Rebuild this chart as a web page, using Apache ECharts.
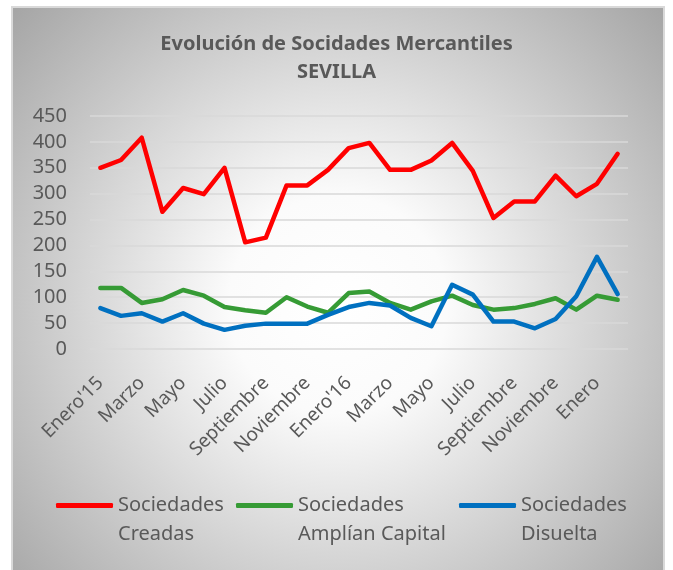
<!DOCTYPE html>
<html>
<head>
<meta charset="utf-8">
<script src="https://cdn.jsdelivr.net/npm/echarts@6/dist/echarts.min.js"></script>
<style>
html,body{margin:0;padding:0;background:#ffffff;}
#chart{width:673px;height:570px;}
</style>
</head>
<body>
<div id="chart"></div>
<script>
var categories = ["Enero'15","Febrero","Marzo","Abril","Mayo","Junio","Julio","Agosto","Septiembre","Octubre","Noviembre","Diciembre",
  "Enero'16","Febrero","Marzo","Abril","Mayo","Junio","Julio","Agosto","Septiembre","Octubre","Noviembre","Diciembre","Enero","Febrero"];
var creadas = [350, 365, 408, 265, 311, 299, 350, 206, 215, 316, 316, 346, 388, 398, 346, 346, 364, 398, 344, 253, 285, 285, 335, 295, 319, 377];
var amplian = [118, 118, 89, 96, 114, 103, 81, 75, 70, 100, 82, 70, 108, 111, 89, 76, 92, 103, 85, 76, 79, 87, 98, 76, 103, 95];
var disuelta = [79, 64, 69, 53, 69, 49, 37, 45, 49, 49, 49, 66, 81, 89, 84, 60, 44, 124, 105, 53, 53, 40, 58, 102, 178, 106];
var seriesNames = ["Sociedades\nCreadas", "Sociedades\nAmplían Capital", "Sociedades\nDisuelta"];
var titleLines = "Evolución de Socidades Mercantiles\nSEVILLA";

var FONT = "'Noto Sans', sans-serif";
var TXT = '#595959';
var chart = echarts.init(document.getElementById('chart'), null, {renderer: 'canvas'});

function legendAt(name, left) {
  return {
    data: [name],
    left: left,
    top: 462,
    padding: 0,
    itemWidth: 57,
    itemHeight: 5,
    itemGap: 4,
    icon: 'roundRect',
    selectedMode: false,
    formatter: function (n) { return '\n' + n; },
    textStyle: {
      fontFamily: FONT, fontSize: 20, color: TXT, lineHeight: 29
    }
  };
}

var option = {
  animation: false,
  graphic: [{
    type: 'rect',
    silent: true,
    z: -10,
    shape: {x: 12, y: 7, width: 652, height: 572},
    style: {
      fill: {
        type: 'radial', x: 0.5, y: 0.52, r: 0.76,
        colorStops: [
          {offset: 0, color: '#ffffff'},
          {offset: 0.25, color: '#fbfbfb'},
          {offset: 1, color: '#a6a6a6'}
        ]
      },
      stroke: '#d9d9d9',
      lineWidth: 2
    }
  }],
  title: {
    text: titleLines,
    left: 'center',
    top: 25,
    textStyle: {
      fontFamily: FONT, fontSize: 20, fontWeight: 'bold', color: TXT, lineHeight: 28
    }
  },
  legend: [
    legendAt(seriesNames[0], 56),
    legendAt(seriesNames[1], 236),
    legendAt(seriesNames[2], 459)
  ],
  grid: {left: 90, right: 45, top: 116, bottom: 221, containLabel: false},
  xAxis: {
    type: 'category',
    data: categories,
    boundaryGap: true,
    axisLine: {show: false},
    axisTick: {show: false},
    axisLabel: {
      interval: 1,
      rotate: 45,
      margin: 31,
      fontFamily: FONT, fontSize: 19, color: TXT
    }
  },
  yAxis: {
    type: 'value',
    min: 0, max: 450, interval: 50,
    axisLine: {show: false},
    axisTick: {show: false},
    axisLabel: {margin: 23, fontFamily: FONT, fontSize: 20, color: TXT},
    splitLine: {lineStyle: {color: '#d9d9d9', width: 1.5}}
  },
  series: [
    {name: seriesNames[0], type: 'line', data: creadas, symbol: 'none', color: '#ff0000',
     lineStyle: {width: 4.5, cap: 'round', join: 'round', color: '#ff0000'}},
    {name: seriesNames[1], type: 'line', data: amplian, symbol: 'none', color: '#369b35',
     lineStyle: {width: 4.5, cap: 'round', join: 'round', color: '#369b35'}},
    {name: seriesNames[2], type: 'line', data: disuelta, symbol: 'none', color: '#0070c0',
     lineStyle: {width: 4.5, cap: 'round', join: 'round', color: '#0070c0'}}
  ]
};
chart.setOption(option);
</script>
</body>
</html>
